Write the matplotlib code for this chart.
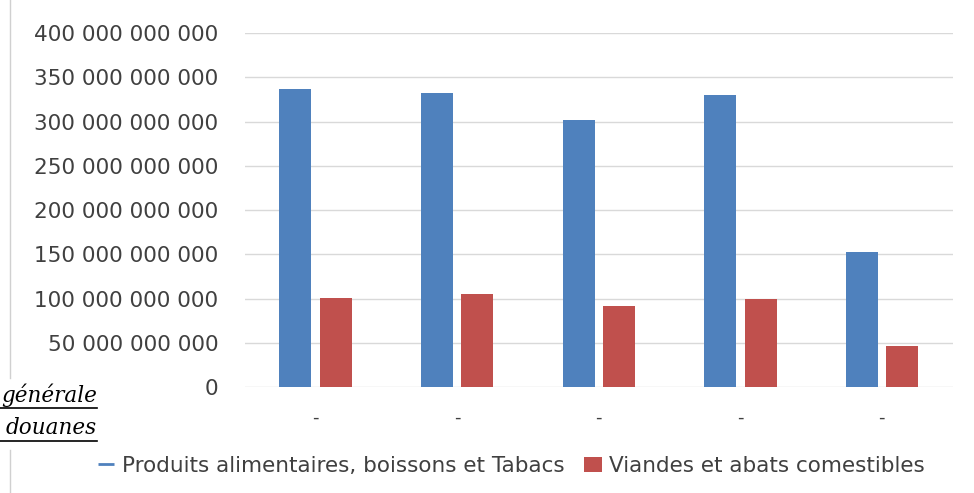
import matplotlib.pyplot as plt
from matplotlib.lines import Line2D
from matplotlib.patches import Patch
from matplotlib.ticker import FuncFormatter, MultipleLocator
import numpy as np

# Données (valeurs en unités monétaires)
categories = ["-", "-", "-", "-", "-"]
produits_alimentaires = [336.5e9, 332e9, 301.5e9, 330e9, 152.5e9]
viandes_abats = [100.5e9, 105e9, 91.5e9, 99.5e9, 46e9]

serie_labels = ["Produits alimentaires, boissons et Tabacs",
                "Viandes et abats comestibles"]
couleurs = ["#4F81BD", "#C0504D"]
texte_gris = "#404040"

fig = plt.figure(figsize=(9.74, 4.93), dpi=100)
ax = fig.add_axes([0.2515, 0.215, 0.7265, 0.718])

x = np.arange(len(categories))
largeur = 0.226
decalage = 0.143
ax.bar(x - decalage, produits_alimentaires, largeur, color=couleurs[0], zorder=3)
ax.bar(x + decalage, viandes_abats, largeur, color=couleurs[1], zorder=3)

ax.set_xlim(-0.5, len(categories) - 0.5)
ax.set_ylim(0, 400e9)
ax.yaxis.set_major_locator(MultipleLocator(50e9))
ax.yaxis.set_major_formatter(
    FuncFormatter(lambda v, pos: f"{int(round(v)):,}".replace(",", " ")))
ax.set_xticks(x)
ax.set_xticklabels(categories)

ax.grid(axis="y", color="#d9d9d9", linewidth=1, zorder=0)
for s in ["top", "right", "left", "bottom"]:
    ax.spines[s].set_visible(False)
ax.tick_params(axis="y", length=0, pad=19, labelsize=15.5, labelcolor=texte_gris)
ax.tick_params(axis="x", length=0, pad=16, labelsize=13, labelcolor=texte_gris)

# Légende
poignees = [Line2D([], [], color=couleurs[0], marker="_", linestyle="none",
                   markersize=12, markeredgewidth=2),
            Patch(facecolor=couleurs[1])]
fig.legend(poignees, serie_labels, loc="center", ncol=2, frameon=False,
           bbox_to_anchor=(0.525, 0.055), fontsize=15.5, labelcolor=texte_gris,
           handlelength=0.8, handletextpad=0.35, columnspacing=0.9)

# Fragments du texte de la page autour du graphique
fig.text(97 / 974, 1 - 395 / 493, "générale", ha="right", va="center",
         fontsize=15.5, style="italic", family="DejaVu Serif", color="black")
fig.text(97 / 974, 1 - 428 / 493, "douanes", ha="right", va="center",
         fontsize=15.5, style="italic", family="DejaVu Serif", color="black")
fig.add_artist(Line2D([0, 97 / 974], [1 - 408 / 493] * 2, color="black", lw=1.2))
fig.add_artist(Line2D([0, 97 / 974], [1 - 441 / 493] * 2, color="black", lw=1.2))

# Bord gris du cadre à gauche
fig.add_artist(Line2D([10 / 974] * 2, [1 - 378 / 493, 1.0], color="#d0d0d0", lw=1))
fig.add_artist(Line2D([10 / 974] * 2, [0, 1 - 450 / 493], color="#d0d0d0", lw=1))

fig.savefig("out.png", dpi=100)
